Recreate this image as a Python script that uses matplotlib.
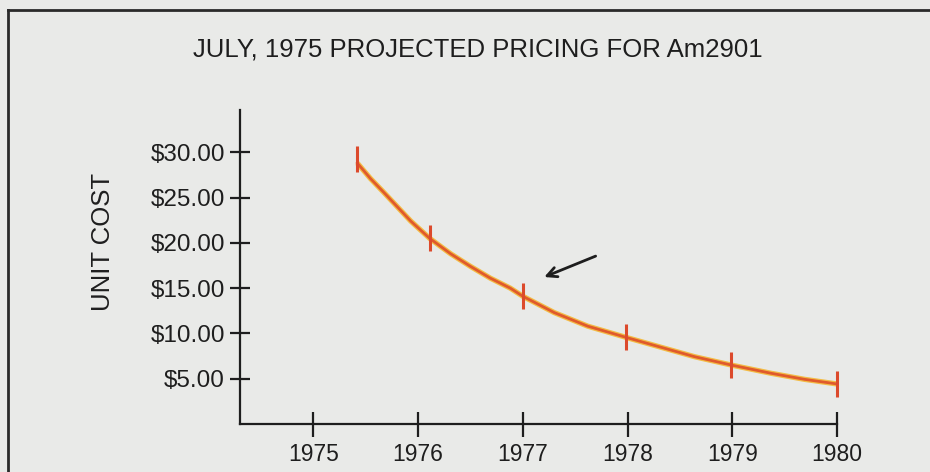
import matplotlib.pyplot as plt
from matplotlib.lines import Line2D

plt.rcParams['font.family'] = ['Liberation Sans', 'DejaVu Sans']

# values
curve_years = [1975.42, 1975.545, 1975.67, 1975.80, 1975.93, 1976.11, 1976.31,
               1976.50, 1976.69, 1976.88, 1977.00, 1977.30, 1977.62, 1977.99,
               1978.32, 1978.64, 1978.99, 1979.37, 1979.69, 1980.00]
curve_cost = [28.8, 27.1, 25.6, 24.0, 22.4, 20.5, 18.8,
              17.4, 16.1, 15.0, 14.1, 12.3, 10.8, 9.55,
              8.47, 7.43, 6.51, 5.60, 4.93, 4.42]

# tick marks sitting on the curve
mark_years = [1975.42, 1976.11, 1977.00, 1977.99, 1978.99, 1980.00]
mark_cost = [29.2, 20.5, 14.1, 9.55, 6.51, 4.42]

year_ticks = [1975, 1976, 1977, 1978, 1979, 1980]
cost_ticks = [5, 10, 15, 20, 25, 30]
cost_labels = ['$5.00', '$10.00', '$15.00', '$20.00', '$25.00', '$30.00']

bg = '#e9eae8'
ink = '#1e1e1e'

fig = plt.figure(figsize=(9.3, 4.72), dpi=100, facecolor=bg)
ax = fig.add_axes([0.2581, 0.1017, 0.9 - 0.2581, 0.7669 - 0.1017])
ax.set_facecolor(bg)

# line with a yellowish edge like the print
ax.plot(curve_years, curve_cost, color='#f3bc45', lw=3.8, solid_capstyle='butt',
        solid_joinstyle='round', clip_on=False, zorder=3)
ax.plot(curve_years, curve_cost, color='#e05a2c', lw=2.0, solid_joinstyle='round',
        clip_on=False, zorder=4)
ax.plot(mark_years, mark_cost, ls='none', marker='|', markersize=19,
        markeredgewidth=2.2, color='#dc4a2c', clip_on=False, zorder=5)

ax.set_xlim(1974.30, 1980.0)
ax.set_ylim(0, 34.66)
ax.set_xticks(year_ticks)
ax.set_xticklabels([str(y) for y in year_ticks])
ax.set_yticks(cost_ticks)
ax.set_yticklabels(cost_labels)

for side in ['top', 'right']:
    ax.spines[side].set_visible(False)
for side in ['left', 'bottom']:
    ax.spines[side].set_color(ink)
    ax.spines[side].set_linewidth(1.6)

ax.tick_params(axis='x', direction='inout', length=18, width=1.6, color=ink,
               labelsize=16.5, labelcolor=ink, pad=5)
ax.tick_params(axis='y', direction='inout', length=14, width=1.6, color=ink,
               labelsize=17.5, labelcolor=ink, pad=4)

ax.annotate('', xy=(1977.18, 16.11), xytext=(1977.72, 18.65),
            arrowprops=dict(arrowstyle='->,head_length=0.7,head_width=0.35',
                            lw=2, color=ink))

fig.text(0.514, 0.896, 'JULY, 1975 PROJECTED PRICING FOR Am2901',
         ha='center', va='center', fontsize=18.5, color=ink)
fig.text(0.111, 0.487, 'UNIT COST', rotation=90, ha='center', va='center',
         fontsize=18.5, color=ink)

# page frame
fig.add_artist(Line2D([8 / 930, 1], [1 - 10 / 472, 1 - 10 / 472],
                      transform=fig.transFigure, color='#2a2a2a', lw=2))
fig.add_artist(Line2D([8 / 930, 8 / 930], [0, 1 - 10 / 472],
                      transform=fig.transFigure, color='#2a2a2a', lw=2))

fig.savefig('out.png', dpi=100, facecolor=bg)
